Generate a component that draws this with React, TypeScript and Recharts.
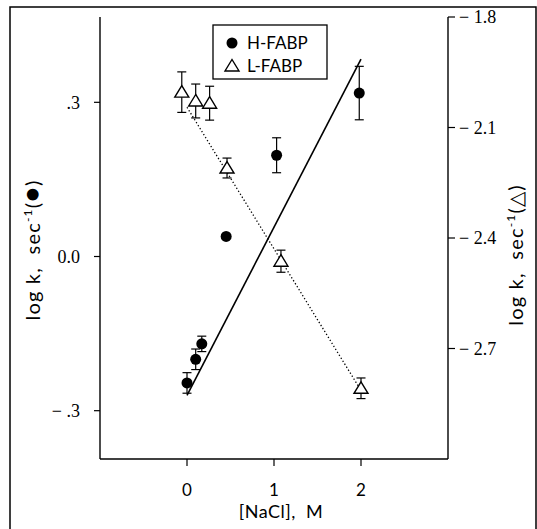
import React from 'react';
import { ScatterChart, Scatter, XAxis, YAxis, ErrorBar } from 'recharts';

// H-FABP (left axis)
const hNaCl = [0, 0.1, 0.17, 0.45, 1.03, 1.98];
const hLogK = [-0.246, -0.2, -0.17, 0.039, 0.197, 0.318];
const hErr = [0.02, 0.02, 0.015, 0, 0.034, 0.052];
// L-FABP (right axis)
const lNaCl = [-0.06, 0.1, 0.26, 0.46, 1.08, 2.0];
const lLogK = [-2.004, -2.028, -2.034, -2.21, -2.463, -2.808];
const lErr = [0.055, 0.046, 0.046, 0.027, 0.03, 0.028];
// fitted lines
const hFitX = [0, 2];
const hFitY = [-0.27, 0.384];
const lFitX = [0, 2];
const lFitY = [-2.045, -2.814];

const xTicks = [0, 1, 2];
const leftTicks = [-0.3, 0, 0.3];
const leftTickLabels = ['\u2212 .3', '0.0', '.3'];
const rightTicks = [-2.7, -2.4, -2.1, -1.8];
const rightTickLabels = ['\u2212 2.7', '\u2212 2.4', '\u2212 2.1', '\u2212 1.8'];

const hData = hNaCl.map((x, i) => ({ x, y: hLogK[i], e: hErr[i] }));
const lData = lNaCl.map((x, i) => ({ x, y: lLogK[i], e: lErr[i] }));
const hFit = hFitX.map((x, i) => ({ x, y: hFitY[i] }));
const lFit = lFitX.map((x, i) => ({ x, y: lFitY[i] }));

const SANS = 'Lato, "Open Sans", sans-serif';
const SERIF = '"Liberation Serif", "DejaVu Serif", serif';

const Dot = (p: any) => <circle cx={p.cx} cy={p.cy} r={5.5} fill="#000" />;
const Tri = (p: any) => (
  <path
    d={`M${p.cx},${p.cy - 6.5} L${p.cx + 7},${p.cy + 5} L${p.cx - 7},${p.cy + 5} Z`}
    fill="#fff"
    stroke="#000"
    strokeWidth={1.4}
  />
);
const NoShape = () => <g />;

const leftFmt = (v: number) => {
  const i = leftTicks.findIndex((t) => Math.abs(t - v) < 1e-6);
  return i >= 0 ? leftTickLabels[i] : '';
};
const rightFmt = (v: number) => {
  const i = rightTicks.findIndex((t) => Math.abs(t - v) < 1e-6);
  return i >= 0 ? rightTickLabels[i] : '';
};

const AxisTitle = ({ cx, cy, sym }: { cx: number; cy: number; sym: string }) => (
  <text
    x={0}
    y={0}
    transform={`translate(${cx},${cy}) rotate(-90)`}
    textAnchor="middle"
    fontFamily={SANS}
    fontSize={20}
    letterSpacing={1.2}
    fill="#000"
    style={{ whiteSpace: 'pre' }}
  >
    {'log k,  sec'}
    <tspan fontSize={12} dy={-8}>-1</tspan>
    <tspan dy={8}>(</tspan>
    <tspan fontSize={sym === '●' ? 24 : 20}>{sym}</tspan>
    <tspan>)</tspan>
  </text>
);

export default function App() {
  return (
    <div style={{ position: 'absolute', left: 0, top: 0, width: 537, height: 529, background: '#fff' }}>
      <ScatterChart width={537} height={529} margin={{ top: 17, right: 0, bottom: 0, left: 0 }}>
        <XAxis
          xAxisId="top"
          orientation="top"
          type="number"
          domain={[-1, 3]}
          height={0}
          tick={false}
          tickLine={false}
          axisLine={{ stroke: '#000', strokeWidth: 1.4 }}
        />
        <XAxis
          type="number"
          dataKey="x"
          domain={[-1, 3]}
          ticks={xTicks}
          height={70}
          tickSize={7}
          tickMargin={18}
          tickLine={{ stroke: '#000', strokeWidth: 1.2 }}
          axisLine={{ stroke: '#000', strokeWidth: 1.4 }}
          tick={{ fill: '#000', fontSize: 17, fontFamily: SANS }}
        />
        <YAxis
          yAxisId="left"
          type="number"
          dataKey="y"
          domain={[-0.394, 0.466]}
          ticks={leftTicks}
          tickFormatter={leftFmt}
          width={100}
          tickSize={6}
          tickMargin={14}
          tickLine={{ stroke: '#000', strokeWidth: 1.2 }}
          axisLine={{ stroke: '#000', strokeWidth: 1.4 }}
          tick={{ fill: '#000', fontSize: 18, fontFamily: SERIF }}
        />
        <YAxis
          yAxisId="right"
          orientation="right"
          type="number"
          dataKey="y"
          domain={[-3.0, -1.8]}
          ticks={rightTicks}
          tickFormatter={rightFmt}
          width={89}
          tickSize={7}
          tickMargin={4}
          tickLine={{ stroke: '#000', strokeWidth: 1.2 }}
          axisLine={{ stroke: '#000', strokeWidth: 1.4 }}
          tick={{ fill: '#000', fontSize: 18, fontFamily: SERIF, textAnchor: 'start' }}
        />
        <Scatter
          data={hFit}
          yAxisId="left"
          line={{ stroke: '#000', strokeWidth: 1.6 }}
          shape={NoShape}
          isAnimationActive={false}
        />
        <Scatter
          data={lFit}
          yAxisId="right"
          line={{ stroke: '#000', strokeWidth: 1.3, strokeDasharray: '1.3 2.2' }}
          shape={NoShape}
          isAnimationActive={false}
        />
        <Scatter data={lData} yAxisId="right" shape={Tri} isAnimationActive={false}>
          <ErrorBar dataKey="e" direction="y" width={4.5} stroke="#000" strokeWidth={1.2} />
        </Scatter>
        <Scatter data={hData} yAxisId="left" shape={Dot} isAnimationActive={false}>
          <ErrorBar dataKey="e" direction="y" width={4.5} stroke="#000" strokeWidth={1.2} />
        </Scatter>
      </ScatterChart>
      <svg
        width={537}
        height={529}
        style={{ position: 'absolute', left: 0, top: 0, pointerEvents: 'none' }}
      >
        {/* outer frame */}
        <path d="M10,540 L10,7 L536,7 L536,540" fill="none" stroke="#000" strokeWidth={1.5} />
        {/* legend */}
        <rect x={213} y={25} width={114} height={54} fill="#fff" stroke="#000" strokeWidth={1.3} />
        <circle cx={232} cy={43} r={5.5} fill="#000" />
        <text x={247} y={49} fontFamily={SANS} fontSize={17} fill="#000">H-FABP</text>
        <path d="M232,59.5 L239,71 L225,71 Z" fill="#fff" stroke="#000" strokeWidth={1.4} />
        <text x={247} y={72} fontFamily={SANS} fontSize={17} fill="#000">L-FABP</text>
        {/* axis labels */}
        <AxisTitle cx={40} cy={250} sym="●" />
        <AxisTitle cx={523} cy={255} sym="△" />
        <text
          x={281}
          y={518}
          textAnchor="middle"
          fontFamily={SANS}
          fontSize={18}
          letterSpacing={0.5}
          fill="#000"
          style={{ whiteSpace: 'pre' }}
        >
          {'[NaCl],  M'}
        </text>
      </svg>
    </div>
  );
}
